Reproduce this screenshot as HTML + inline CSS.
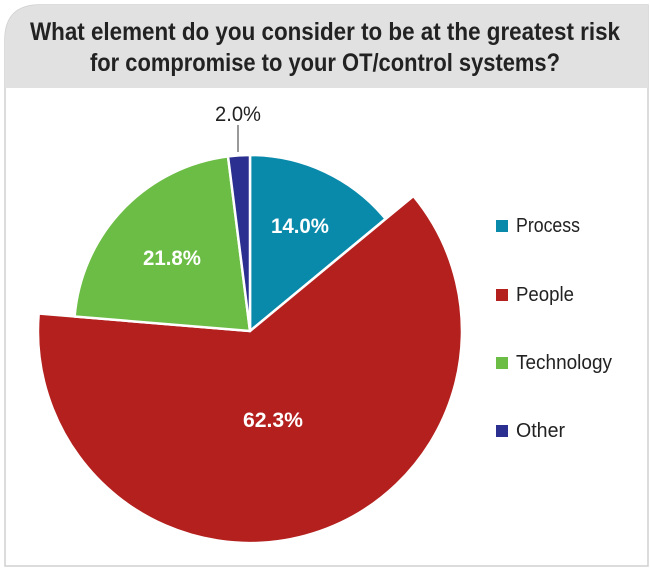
<!DOCTYPE html>
<html><head><style>
body{margin:0;background:#fff;}
svg text{font-family:"Liberation Sans Narrow","Liberation Sans",sans-serif;}
</style></head><body>
<svg width="650" height="571" viewBox="0 0 650 571" xmlns="http://www.w3.org/2000/svg">
<path d="M5,566 V40 Q5,5 40,5 H648 V566 Z" fill="#fff" stroke="#d0d0d0" stroke-width="1.5"/>
<path d="M5,88 V40 Q5,5 40,5 H648 V88 Z" fill="#e1e1e1"/>
<text x="30" y="40" textLength="590" lengthAdjust="spacingAndGlyphs" font-size="25" font-weight="bold" fill="#222">What element do you consider to be at the greatest risk</text>
<text x="90" y="71" textLength="470" lengthAdjust="spacingAndGlyphs" font-size="25" font-weight="bold" fill="#222">for compromise to your OT/control systems?</text>
<g stroke="#fff" stroke-width="2.5" stroke-linejoin="round">
<path d="M250,331 L250,155 A176,176 0 0 1 385.6,218.8 Z" fill="#0a8aab"/>
<path d="M250,331 L413.4,196 A212,212 0 1 1 38.7,313.5 Z" fill="#b3201e"/>
<path d="M250,331 L74.6,316.5 A176,176 0 0 1 228.0,156.4 Z" fill="#6cbd45"/>
<path d="M250,331 L228.0,156.4 A176,176 0 0 1 250,155 Z" fill="#2b2f8f"/>
</g>
<line x1="238" y1="125" x2="238" y2="152" stroke="#333" stroke-width="1"/>
<text x="238" y="121" text-anchor="middle" font-size="21" textLength="46" lengthAdjust="spacingAndGlyphs" fill="#222">2.0%</text>
<text x="300" y="233" text-anchor="middle" font-size="21" textLength="58" lengthAdjust="spacingAndGlyphs" font-weight="bold" fill="#fff">14.0%</text>
<text x="172" y="265" text-anchor="middle" font-size="21" textLength="58" lengthAdjust="spacingAndGlyphs" font-weight="bold" fill="#fff">21.8%</text>
<text x="273" y="427" text-anchor="middle" font-size="21" textLength="60" lengthAdjust="spacingAndGlyphs" font-weight="bold" fill="#fff">62.3%</text>
<rect x="496" y="220" width="12" height="12" fill="#0a8aab"/>
<text x="516" y="232" font-size="20" textLength="64" lengthAdjust="spacingAndGlyphs" fill="#222">Process</text>
<rect x="496" y="289" width="12" height="12" fill="#b3201e"/>
<text x="516" y="301" font-size="20" textLength="58" lengthAdjust="spacingAndGlyphs" fill="#222">People</text>
<rect x="496" y="357" width="12" height="12" fill="#6cbd45"/>
<text x="516" y="369" font-size="20" textLength="96" lengthAdjust="spacingAndGlyphs" fill="#222">Technology</text>
<rect x="496" y="425" width="12" height="12" fill="#2b2f8f"/>
<text x="516" y="437" font-size="20" textLength="49" lengthAdjust="spacingAndGlyphs" fill="#222">Other</text>
</svg>
</body></html>
